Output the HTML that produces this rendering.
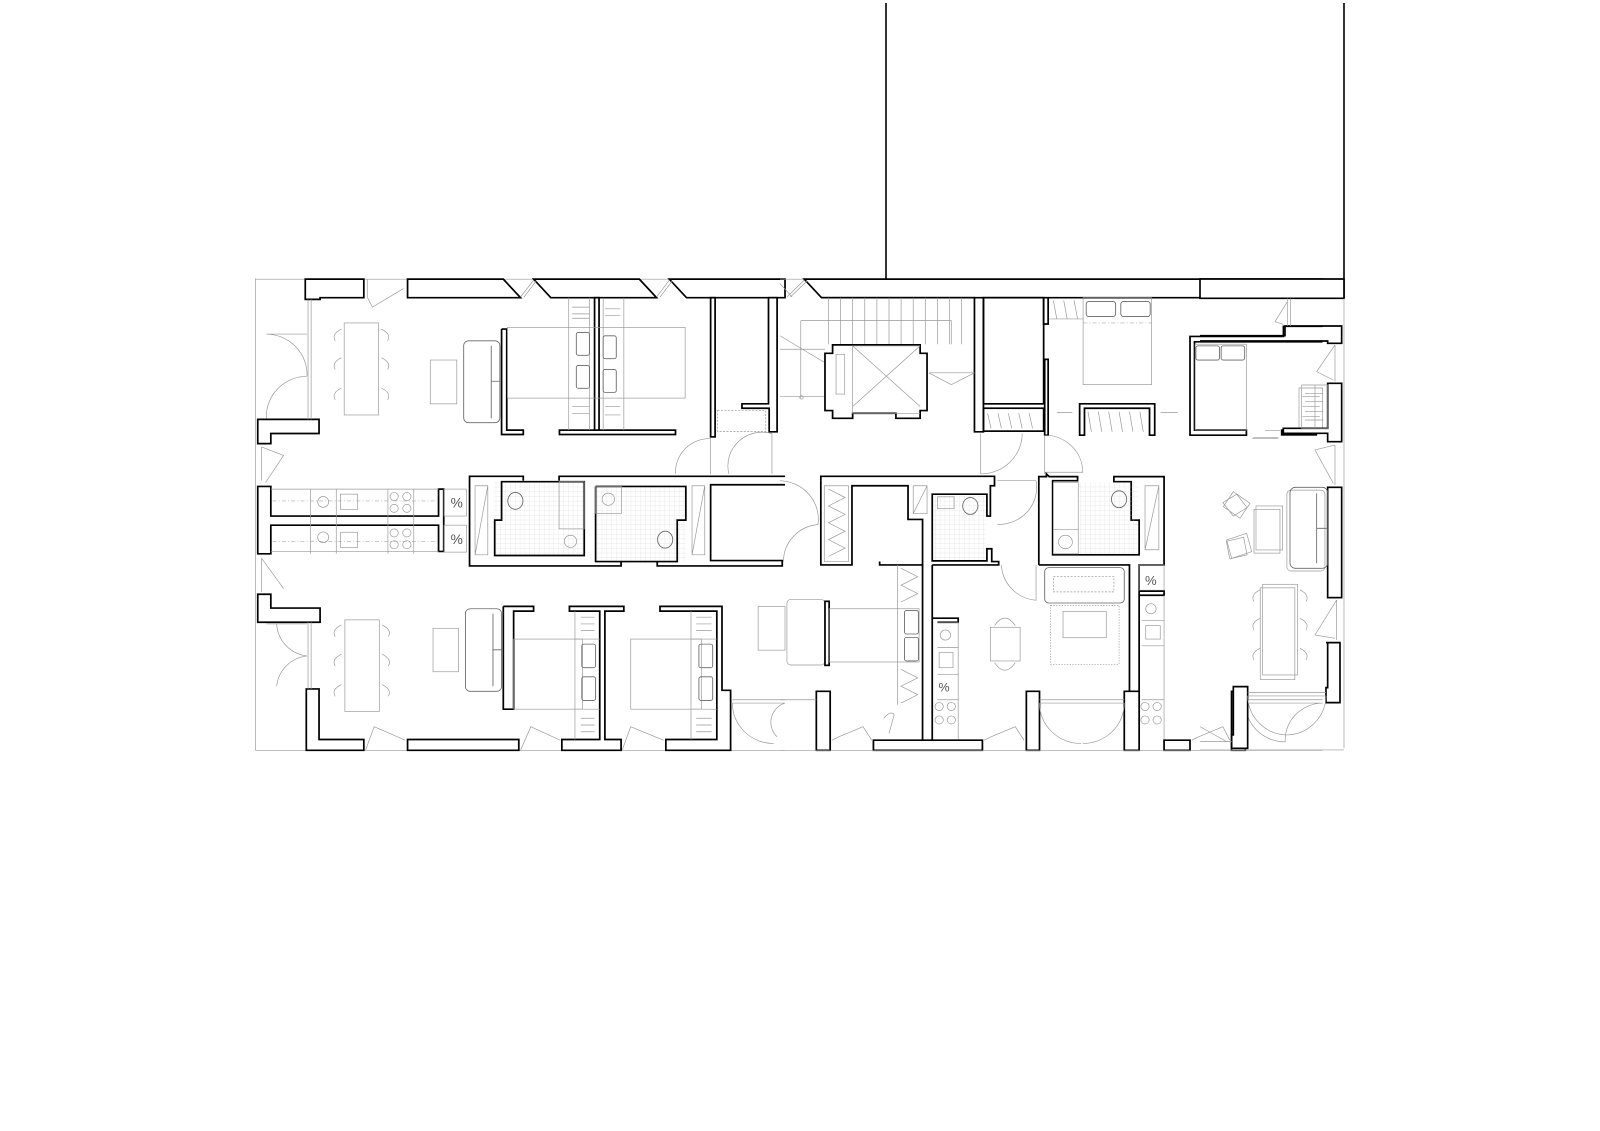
<!DOCTYPE html>
<html><head><meta charset="utf-8"><style>
html,body{margin:0;padding:0;background:#fff;}
svg{display:block}
.w{fill:none;stroke:#000;stroke-width:5;stroke-linejoin:miter}
.wf{fill:#fff;stroke:#000;stroke-width:5}
.t{fill:none;stroke:#999;stroke-width:2}
.tk{fill:none;stroke:#666;stroke-width:2.5}
.d{fill:none;stroke:#aaa;stroke-width:2;stroke-dasharray:12 6 3 6}
.tile{fill:url(#grid);stroke:none}
</style></head><body>
<svg width="1600" height="1131" viewBox="0 0 1600 1131" xmlns="http://www.w3.org/2000/svg">
<defs>
<pattern id="grid" width="14" height="14" patternUnits="userSpaceOnUse"><path d="M14 0H0V14" fill="none" stroke="#ccc" stroke-width="1.2"/></pattern>
</defs>
<rect width="1600" height="1131" fill="#fff"/>
<line x1="886" y1="3" x2="886" y2="280" stroke="#000" stroke-width="1.6"/>
<line x1="1344" y1="3" x2="1344" y2="298" stroke="#000" stroke-width="1.6"/>

<g transform="translate(245,265) scale(0.3444,0.337)">
<line x1="30" y1="42" x2="1568" y2="42" class="t"/>
<line x1="30" y1="40" x2="30" y2="1440" class="t"/>
<line x1="30" y1="1440" x2="1568" y2="1440" class="t"/>
<polygon class="wf" points="175,42 345,42 345,97 218,97 218,102 175,102"/>
<polygon class="wf" points="472,42 750,42 800,97 472,97"/>
<polygon class="wf" points="838,42 1145,42 1195,97 888,97"/>
<polygon class="wf" points="1232,42 1568,42 1568,97 1282,97"/>
<path class="t" d="M800,95 L838,45 M810,95 L845,48 M1195,95 L1232,45 M1205,95 L1240,48"/>
<polygon class="wf" points="37,458 215,458 215,500 75,500 75,530 37,530"/>
<polygon class="wf" points="37,657 75,657 75,745 562,745 562,665 577,665 577,850 562,850 562,772 75,772 75,857 37,857"/>
<polygon class="wf" points="37,977 75,977 75,1018 218,1018 218,1060 37,1060"/>
<polygon class="wf" points="178,1258 215,1258 215,1408 345,1408 345,1440 178,1440"/>
<polygon class="wf" points="472,1408 795,1408 795,1440 472,1440"/>
<path class="t" d="M183,102 V458 M192,102 V458 M183,1060 V1258 M192,1060 V1258"/>
<path class="t" d="M62,205 H180 M62,205 A120,120 0 0 1 180,330 M62,455 A120,120 0 0 1 180,330 M62,1065 H180 M92,1250 A100,100 0 0 1 180,1160 M92,1065 A100,100 0 0 0 180,1160"/>
<path class="t" d="M48,540 V640 M48,540 L112,565 L60,645 M48,870 V970 M48,870 L112,960 M355,42 V95 M355,95 L370,125 L460,70 M350,1440 L375,1370 L465,1410 M800,1440 L830,1370 L915,1410 M1095,1440 L1120,1370 L1215,1410"/>
<rect class="t" x="288" y="172" width="100" height="273"/>
<rect class="t" x="290" y="1053" width="100" height="272"/>
<g class="t">
<path d="M280,190 Q250,205 262,225 M280,275 Q250,290 262,310 M280,365 Q250,380 262,400 M396,190 Q426,205 414,225 M396,275 Q426,290 414,310 M396,365 Q426,380 414,400"/>
<path d="M280,1068 Q250,1083 262,1103 M280,1155 Q250,1170 262,1190 M280,1245 Q250,1260 262,1280 M398,1068 Q428,1083 416,1103 M398,1155 Q428,1170 416,1190 M398,1245 Q428,1260 416,1280"/>
</g>
<rect class="t" x="538" y="282" width="77" height="130"/>
<rect class="t" x="546" y="1078" width="74" height="129"/>
<rect class="tk" x="635" y="225" width="105" height="243" rx="14"/>
<path class="tk" d="M715,240 V455 M715,345 H740"/>
<rect class="tk" x="640" y="1020" width="105" height="245" rx="14"/>
<path class="tk" d="M720,1035 V1250 M720,1142 H745"/>
<polyline class="w" points="745,190 760,190 760,490 808,490 808,503 745,503 745,190"/>
<rect class="wf" x="913" y="490" width="337" height="13"/>
<rect class="wf" x="1015" y="97" width="13" height="393"/>
<rect class="t" x="762" y="185" width="516" height="210"/>
<path class="t" d="M940,97 V490 M1000,97 V490 M1040,97 V490 M1100,97 V490"/>
<rect class="tk" x="962" y="200" width="38" height="68" rx="6"/>
<rect class="tk" x="962" y="298" width="38" height="68" rx="6"/>
<rect class="tk" x="1040" y="210" width="38" height="68" rx="6"/>
<rect class="tk" x="1040" y="310" width="38" height="68" rx="6"/>
<path class="t" d="M950,125 H1000 M950,145 H1000 M950,158 H1000 M1045,130 H1090 M1045,150 H1090 M950,420 H1000 M950,440 H1000 M1045,420 H1090 M1045,445 H1090"/>
<rect class="wf" x="1352" y="97" width="13" height="413"/>
<polygon class="wf" points="1520,97 1545,97 1545,495 1522,495 1522,425 1443,425 1443,412 1520,412"/>
<rect class="t" x="1372" y="432" width="140" height="62" stroke-dasharray="6 4"/>
<path class="t" d="M1250,620 A100,100 0 0 1 1352,515 V620 M1405,620 A100,100 0 0 1 1530,500 V620"/>
<path class="d" d="M80,700 H560 M80,820 H560"/>
<path class="t" d="M190,665 V857 M265,665 V857 M415,665 V857 M490,665 V857 M75,665 H562 M75,850 H562"/>
<circle class="t" cx="227" cy="703" r="16"/><circle class="t" cx="227" cy="808" r="16"/>
<rect class="t" x="277" y="680" width="50" height="45"/><rect class="t" x="277" y="793" width="50" height="45"/>
<circle class="t" cx="433" cy="687" r="12"/><circle class="t" cx="470" cy="687" r="12"/><circle class="t" cx="433" cy="722" r="12"/><circle class="t" cx="470" cy="722" r="12"/>
<circle class="t" cx="433" cy="795" r="12"/><circle class="t" cx="470" cy="795" r="12"/><circle class="t" cx="433" cy="830" r="12"/><circle class="t" cx="470" cy="830" r="12"/>
<rect class="t" x="578" y="665" width="65" height="80"/><rect class="t" x="578" y="772" width="65" height="80"/>
<text x="597" y="720" font-family="Liberation Sans, sans-serif" font-size="40" fill="#555">%</text>
<text x="597" y="828" font-family="Liberation Sans, sans-serif" font-size="40" fill="#555">%</text>
<polyline class="w" points="808,640 808,627 652,627 652,893 1092,893 1092,880"/>
<polyline class="w" points="912,640 912,627 1568,627"/>
<polyline class="w" points="1197,880 1197,893 1560,893 1560,877 1352,877 1352,652 1568,652"/>
<rect class="tile" x="725" y="643" width="260" height="219"/>
<polyline class="w" points="808,643 985,643 985,862 725,862 725,757 745,757 745,643 808,643"/>
<rect class="t" x="912" y="643" width="73" height="140"/>
<rect class="tile" x="1018" y="657" width="262" height="223"/>
<polyline class="w" points="1018,657 1280,657 1280,757 1255,757 1255,880 1018,880 1018,657"/>
<rect class="t" x="1018" y="657" width="75" height="80"/>
<ellipse class="tk" cx="785" cy="700" rx="22" ry="25" fill="#fff"/>
<ellipse class="tk" cx="1220" cy="815" rx="22" ry="25" fill="#fff"/>
<path class="t" d="M668,655 H705 V860 H668 Z M668,860 L705,655 M1298,655 H1335 V860 H1298 Z M1298,860 L1335,655"/>
<circle class="t" cx="1055" cy="695" r="18"/><circle class="t" cx="945" cy="820" r="18"/>
<polyline class="w" points="750,1013 838,1013 838,1027 780,1027 780,1318 750,1318 750,1013"/>
<polygon class="wf" points="942,1013 1100,1013 1100,1027 1045,1027 1045,1408 1092,1408 1092,1440 920,1440 920,1408 1030,1408 1030,1027 942,1027"/>
<polygon class="wf" points="1205,1013 1385,1013 1385,1262 1410,1262 1410,1440 1222,1440 1222,1408 1370,1408 1370,1027 1205,1027"/>
<rect class="t" x="780" y="1110" width="200" height="208"/>
<rect class="t" x="1120" y="1110" width="205" height="208"/>
<path class="t" d="M958,1027 V1408 M1295,1027 V1408 M958,1110 H1030 M958,1318 H1030 M1295,1110 H1370 M1295,1318 H1370"/>
<rect class="tk" x="978" y="1125" width="40" height="70" rx="6"/><rect class="tk" x="978" y="1222" width="40" height="70" rx="6"/>
<rect class="tk" x="1318" y="1125" width="40" height="70" rx="6"/><rect class="tk" x="1318" y="1222" width="40" height="70" rx="6"/>
<path class="t" d="M975,1045 H1015 M975,1065 H1015 M975,1085 H1015 M975,1345 H1015 M975,1365 H1015 M975,1385 H1015 M1310,1045 H1355 M1310,1065 H1355 M1310,1085 H1355 M1310,1345 H1355 M1310,1365 H1355 M1310,1385 H1355"/>
<rect class="t" x="1490" y="1013" width="78" height="130"/>
<path class="t" d="M1415,1290 H1568 M1415,1300 H1568 M1415,1300 A120,120 0 0 0 1535,1420 M1568,1300 A60,60 0 0 0 1545,1400"/>
</g>

<g transform="translate(780,265) scale(0.346,0.337)">
<line x1="0" y1="42" x2="1568" y2="42" class="t"/>
<polygon class="wf" points="70,42 1568,42 1568,97 120,97"/>
<path class="t" d="M0,55 L35,95 M20,95 L70,45 M30,95 L78,48"/>
<polyline class="w" points="120,97 562,97 562,495 588,495 588,97"/>
<path class="t" d="M140,97 V235 M175,97 V235 M210,97 V235 M245,97 V235 M280,97 V235 M315,97 V235 M350,97 V235 M385,97 V235 M420,97 V235 M455,97 V235 M490,97 V235 M525,97 V235 M60,165 H495 V235 M430,320 H562 M0,210 L130,290 M0,390 H130 M430,320 L495,355 L562,320 M0,250 H130 M60,165 V395"/>
<circle class="t" cx="62" cy="393" r="5"/>
<polygon class="wf" points="152,237 405,237 405,262 425,262 425,432 405,432 405,455 335,455 335,440 210,440 210,455 152,455 152,432 130,432 130,262 152,262"/>
<path class="t" d="M210,240 V440 H405 M210,240 L405,420 M405,240 L210,420 M210,240 H405"/>
<rect class="t" x="162" y="265" width="25" height="118"/>
<rect class="w" x="588" y="97" width="174" height="315"/>
<rect class="w" x="588" y="425" width="174" height="68"/>
<path class="t" d="M600,440 L610,485 M630,440 L640,485 M660,440 L670,485 M690,440 L700,485 M720,440 L730,485"/>
<polyline class="w" points="762,97 762,175 775,175 775,97"/>
<rect class="wf" x="765" y="280" width="10" height="225"/>
<path class="t" d="M580,500 V620 M580,620 A120,120 0 0 0 700,500 M765,505 V620 M765,505 A110,110 0 0 1 875,615 H765"/>
<rect class="t" x="876" y="97" width="198" height="258"/>
<path class="d" d="M876,172 H1074"/>
<rect class="tk" x="885" y="108" width="85" height="45" rx="8"/><rect class="tk" x="985" y="108" width="85" height="45" rx="8"/>
<path class="t" d="M790,105 L800,160 M820,105 L830,160 M850,105 L860,160 M778,160 H876"/>
<polygon class="wf" points="866,412 1083,412 1083,505 1068,505 1068,425 880,425 880,505 866,505"/>
<path class="t" d="M890,435 L900,495 M920,435 L930,495 M950,435 L960,495 M980,435 L990,495 M1010,435 L1020,495 M1040,435 L1050,495 M800,438 H845 M1100,438 H1150"/>
<polyline class="w" points="1568,182 1455,182 1455,212 1185,212 1185,505 1348,505 1348,490 1198,490 1198,228 1568,228"/>
<rect class="wf" x="1450" y="490" width="100" height="14"/>
<rect class="t" x="1200" y="235" width="148" height="255"/>
<rect class="tk" x="1202" y="240" width="68" height="42" rx="6"/><rect class="tk" x="1275" y="240" width="68" height="42" rx="6"/>
<path class="t" d="M1500,365 H1568 V490 H1500 Z M1510,390 H1560 M1510,420 H1560 M1510,450 H1560 M1365,515 H1440"/>
<polyline class="w" points="118,640 118,627 620,627 620,655 608,655 608,745 598,745 598,680 440,680 440,878 598,878 598,842 612,842 612,880 632,880 632,890 440,890"/>
<rect class="tile" x="445" y="685" width="150" height="190"/>
<polyline class="w" points="118,640 118,890 208,890 208,655 370,655 370,755 412,755 412,890 288,890 288,880 "/>
<path class="t" d="M128,655 H198 V880 H128 Z M140,665 L188,690 L140,715 L188,740 L140,765 L188,790 L140,815 L188,840 L140,865"/>
<path class="t" d="M385,655 H425 V738 H385 Z M385,738 L425,655"/>
<ellipse class="tk" cx="550" cy="715" rx="22" ry="25" fill="#fff"/>
<rect class="t" x="455" y="688" width="48" height="35"/>
<path class="t" d="M0,640 A115,115 0 0 1 110,770 M10,880 A110,110 0 0 1 110,770 M628,640 H740 M628,770 A110,110 0 0 0 740,640 M640,890 A110,110 0 0 0 740,995 M740,890 V995"/>
<path class="w" d="M412,890 V1410 M440,890 V1410"/>
<polyline class="w" points="440,1048 515,1048 515,1060 455,1060"/>
<rect class="t" x="20" y="992" width="110" height="195" rx="12"/>
<rect class="wf" x="130" y="998" width="12" height="190"/>
<rect class="t" x="142" y="1020" width="260" height="158"/>
<path class="t" d="M340,890 V1305 M350,900 L398,925 L350,950 L398,975 L350,1000 M350,1200 L398,1225 L350,1250 L398,1275 L350,1300"/>
<rect class="tk" x="360" y="1025" width="40" height="70" rx="6"/><rect class="tk" x="360" y="1105" width="40" height="70" rx="6"/>
<polyline class="w" points="748,890 748,628 770,628 770,620 778,628 860,628 860,640 788,640 788,860 1038,860 1038,757 1015,757 1015,643 965,643 965,628 1110,628 1110,890 1038,890 1038,1410"/>
<rect class="tile" x="865" y="645" width="170" height="212"/>
<rect class="t" x="790" y="645" width="72" height="212"/>
<path class="t" d="M790,785 H862 M1055,655 H1095 V845 H1055 Z M1055,845 L1095,655"/>
<ellipse class="tk" cx="980" cy="695" rx="22" ry="25" fill="#fff"/>
<circle class="t" cx="825" cy="822" r="20"/>
<polyline class="w" points="748,890 1010,890 1010,1265 995,1265"/>
<rect class="tk" x="765" y="898" width="230" height="105" rx="12"/>
<rect class="t" x="790" y="925" width="175" height="45" stroke-dasharray="6 4"/>
<rect class="t" x="782" y="1010" width="198" height="175" stroke-dasharray="4 4"/>
<rect class="t" x="818" y="1028" width="125" height="78"/>
<rect class="t" x="608" y="1075" width="86" height="100"/>
<path class="t" d="M620,1070 Q650,1025 680,1070 M620,1180 Q650,1225 680,1180"/>
<rect class="t" x="1038" y="890" width="72" height="75"/>
<polyline class="w" points="1038,968 1110,968 1110,980 1038,980"/>
<text x="1055" y="950" font-family="Liberation Sans, sans-serif" font-size="38" fill="#555">%</text>
<path class="t" d="M455,1060 H515 V1410 M1110,980 V1410 M1045,1055 H1110 M1045,1130 H1110 M1045,1290 H1110 M455,1135 H515 M455,1215 H515 M455,1290 H515"/>
<circle class="t" cx="478" cy="1098" r="15"/><circle class="t" cx="1072" cy="1020" r="15"/>
<rect class="t" x="460" y="1150" width="40" height="45"/><rect class="t" x="1057" y="1070" width="42" height="40"/>
<text x="458" y="1265" font-family="Liberation Sans, sans-serif" font-size="36" fill="#555">%</text>
<circle class="t" cx="460" cy="1310" r="12"/><circle class="t" cx="495" cy="1310" r="12"/><circle class="t" cx="460" cy="1350" r="12"/><circle class="t" cx="495" cy="1350" r="12"/>
<circle class="t" cx="1055" cy="1310" r="12"/><circle class="t" cx="1090" cy="1310" r="12"/><circle class="t" cx="1055" cy="1350" r="12"/><circle class="t" cx="1090" cy="1350" r="12"/>
<rect class="t" x="1465" y="668" width="110" height="240" rx="12"/>
<rect class="t" x="1370" y="725" width="75" height="130"/>
<rect class="t" x="1388" y="958" width="100" height="272"/>
<path class="t" d="M1280,705 L1320,680 L1350,720 L1310,745 Z M1290,820 L1340,808 L1350,860 L1300,872 Z"/>
<polygon class="wf" points="105,1265 145,1265 145,1440 105,1440"/>
<polygon class="wf" points="270,1410 585,1410 585,1440 270,1440"/>
<polygon class="wf" points="712,1265 750,1265 750,1440 712,1440"/>
<polygon class="wf" points="995,1265 1038,1265 1038,1440 995,1440"/>
<polygon class="wf" points="1110,1410 1185,1410 1185,1440 1110,1440"/>
<polygon class="wf" points="1305,1265 1345,1265 1345,1440 1305,1440"/>
<path class="t" d="M750,1290 H995 M750,1300 H995 M750,1300 A120,120 0 0 0 870,1420 M995,1300 A120,120 0 0 1 875,1420 M1345,1290 H1568 M1345,1300 H1568 M1345,1300 A115,115 0 0 0 1460,1415 M1568,1300 A110,110 0 0 0 1460,1415 M0,1290 H105 M150,1410 L170,1400 L240,1370 L265,1410 M590,1410 L610,1400 L680,1370 L705,1410 M1190,1410 L1210,1400 L1280,1370 L1300,1410 M300,1345 Q320,1320 330,1335 L315,1390"/>
<line x1="0" y1="1440" x2="1568" y2="1440" class="t"/>
</g>

<g transform="translate(1200,265) scale(0.3333)">
<polygon class="wf" points="0,42 432,42 432,100 0,100"/>
<path class="t" d="M432,100 V1450 M0,1455 H432"/>
<polyline class="w" points="0,212 255,212 255,183 425,183 425,235 383,235 383,228 0,228"/>
<path class="t" d="M262,100 V183 M272,100 V183 M262,110 L225,170 L250,178 M405,240 V350 M405,240 L350,320 L400,345 M405,540 V660 M405,540 L345,555 L400,655 M410,1005 V1125 M410,1005 L345,1110 L405,1120"/>
<polygon class="wf" points="383,355 425,355 425,530 383,530 383,505 250,505 250,490 383,490"/>
<path class="t" d="M305,360 H383 V490 H305 Z M345,360 V490 M315,385 H370 M315,410 H370 M315,440 H370 M315,465 H370 M195,497 H240 M160,518 H235"/>
<rect class="wf" x="383" y="667" width="42" height="331"/>
<polygon class="wf" points="378,1133 420,1133 420,1313 378,1313 378,1268 383,1268 383,1133"/>
<polygon class="wf" points="100,1265 143,1265 143,1450 95,1450 95,1410 100,1410"/>
<rect class="tk" x="270" y="667" width="113" height="243" rx="16"/>
<path class="tk" d="M350,685 V895 M350,790 H380"/>
<rect class="t" x="168" y="723" width="80" height="132"/>
<path class="t" d="M70,725 L100,680 L150,715 L120,760 Z M80,825 L140,805 L155,860 L95,880 Z"/>
<rect class="t" x="188" y="958" width="105" height="272"/>
<path class="t" d="M180,975 Q150,990 162,1010 M180,1060 Q150,1075 162,1095 M180,1150 Q150,1165 162,1185 M300,975 Q330,990 318,1010 M300,1060 Q330,1075 318,1095 M300,1150 Q330,1165 318,1185"/>
<path class="t" d="M143,1283 H378 M143,1293 H378 M143,1293 A120,120 0 0 0 260,1410 M378,1293 A120,120 0 0 1 260,1410 M0,1430 H95 M0,1385 L80,1430"/>
</g>
</svg>
</body></html>
